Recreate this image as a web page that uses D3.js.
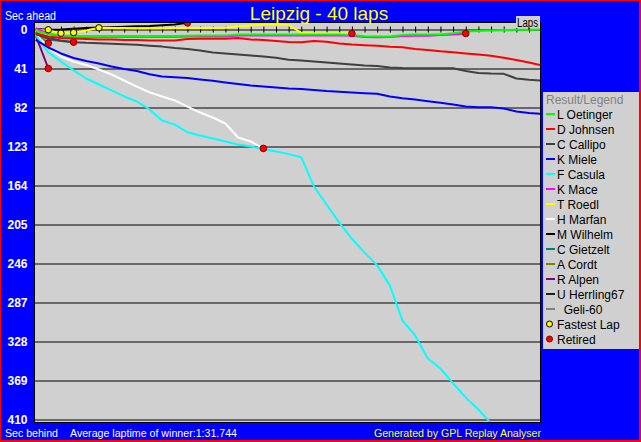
<!DOCTYPE html>
<html><head><meta charset="utf-8">
<script src="https://cdn.jsdelivr.net/npm/d3@7"></script>
<style>
body{margin:0;padding:0;background:#0000ff;overflow:hidden;}
svg{display:block;}
text{font-family:"Liberation Sans",Arial,sans-serif;}
</style></head><body>
<svg id="chart" width="641" height="442"></svg>
<script>
// ---------- data ----------
const chartTitle = "Leipzig - 40 laps";
const lapCount = 40;
const yTicks = [0, 41, 82, 123, 164, 205, 246, 287, 328, 369, 410];
const drivers = ["L Oetinger","D Johnsen","C Callipo","K Miele","F Casula","K Mace","T Roedl","H Marfan","M Wilhelm","C Gietzelt","A Cordt","R Alpen","U Herrling67","  Geli-60"];
const driverColors = ["#00ff00","#ff0000","#404040","#0000ff","#00ffff","#ff00ff","#ffff00","#ffffff","#000000","#008080","#808000","#800080","#202020","#808080"];
// seconds behind the winner's average pace, lap 0..n
const oetinger = [1.5,4.5,6.3,6.8,6.8,6.8,6.8,6.8,6.8,6.8,6.8,6.8,6.5,6.3,6.3,6.3,5.3,5.3,5.3,5.3,5.3,5.3,5.3,5.3,5.3,5.8,7,7.4,7.4,5.8,5.3,5.3,5.3,3.9,2.1,1.6,1,0.5,0.3,0.2,0];
const johnsen = [4,7.4,9,9.5,10,10.5,10.5,11,11,11.5,11.5,11.6,10,9.8,9.8,9.8,9,10.5,11,12,13.1,13.4,12,13,14.7,15.8,16.5,17,18.2,18.7,20.5,21.6,22.9,23.9,25.2,26.3,27.6,29.8,32,34.7,37.8];
const callipo = [5,9,11.5,13.3,14,14.4,15,15.5,16,17,18,19.5,20.5,22,24.2,25.2,26.3,27.3,28.4,29.8,31.9,32.6,33.6,34.7,35.7,36.8,37.8,38.4,40,40.5,40.7,40.7,40.7,40.7,43.6,45.7,46.3,46.6,51.5,52.9,53.6];
const miele = [11,18.9,25.2,30,33.1,35.7,38.9,41.5,43.6,47,49.4,50.1,51,52.6,54,55.7,57.3,58.9,60,61,62,62.5,63.6,64.7,65.5,66.2,67,67.6,70.4,72.2,73.6,75.4,77,78.8,81,81.7,81.7,83,86.2,87.8,88.6];
const casula = [6,24,33.6,43,51.5,57.8,64,70.4,75.7,84,95.7,100,108,111.4,114.6,117.7,121,123,125.6,128.3,131,134.3,165,184,203,220,234.5,248,269,306,321.7,345.9,356.4,372,387,399.5,414,430];
const mace = [-1.5,4.5,7,7.5,7.5,7.5,7.5,7.5,7.5,7.5,7.5,7.5,7.3,7.3,7.3,7.3,6.3,6.3,6.3,6.3,6.3,6.3,6.3,6.3,6.3,6.5,7.9,8.1,7.9,6.8,6.6,6.6,5.8,5.3,4.2];
const roedl = [0.5,1,3.9,3.2,1,-1.8,-1.6,-1.6,-1.4,-1.4,-1.4,-1.6,-1.6,-1.6,-1.6,-1.8,-3.2,-4.2,-5.3,-5.3,-5,3.7,4.2,4.2,4.2,4.2];
const marfan = [5,19,28.4,33.6,37.3,42,47.3,53.6,60,66,70.4,74.6,81,87.3,92.5,98.8,113.5,117.7,125];
const wilhelm = [-0.5,0.3,0,-0.8,-1.5,-2,-2.4,-2.8,-3.4,-3.6,-4.4,-5.3,-7];
const gietzelt = [3,10.5,12,13.3];
const cordt = [3,14.4];
const alpen = [6,41];
const herrling = [];
const geli = [];
const seriesValues = [oetinger,johnsen,callipo,miele,casula,mace,roedl,marfan,wilhelm,gietzelt,cordt,alpen,herrling,geli];
const retiredDrivers = ["K Mace","T Roedl","H Marfan","M Wilhelm","C Gietzelt","A Cordt","R Alpen"];
const fastestLapDrivers = ["M Wilhelm","T Roedl","T Roedl","T Roedl"];
const fastestLapLaps = [1,2,3,5];

// ---------- layout ----------
const W = 641, H = 442;
const svg = d3.select("#chart");
const plot = {x0:34, y0:22, x1:541, y1:423};

svg.append("rect").attr("x",0).attr("y",0).attr("width",W).attr("height",H).attr("fill","#ff0000");
svg.append("rect").attr("x",1).attr("y",1).attr("width",638).attr("height",439).attr("fill","#0000ff");

const x = d3.scaleLinear().domain([0, lapCount]).range([35.65, 541.65]);
const y = d3.scaleLinear().domain([0, 410]).range([29.5, 419.5]);

svg.append("rect").attr("x",plot.x0+0.5).attr("y",plot.y0+0.5)
  .attr("width",plot.x1-plot.x0-1).attr("height",plot.y1-plot.y0-1)
  .attr("fill","#d0d0d0").attr("stroke","#000").attr("stroke-width",1);

svg.append("defs").append("clipPath").attr("id","clip")
  .append("rect").attr("x",plot.x0+1).attr("y",plot.y0+1)
  .attr("width",plot.x1-plot.x0-2).attr("height",plot.y1-plot.y0-2);

// grid lines + y labels
const yAxis = d3.axisLeft(y).tickValues(yTicks).tickSize(-(plot.x1-plot.x0-1)).tickPadding(6);
const gy = svg.append("g").attr("transform",`translate(${plot.x0+0.5},0)`).call(yAxis);
gy.select(".domain").remove();
gy.selectAll(".tick line").attr("stroke","#000").attr("stroke-width",1);
gy.selectAll(".tick text").attr("fill","#fff").attr("font-size",12).attr("font-weight","bold")
  .attr("font-family",'"Liberation Sans",Arial,sans-serif').attr("x",-7);

// lap ticks on the zero line
const xAxis = d3.axisTop(x).tickValues(d3.range(1, lapCount)).tickSize(3).tickFormat("");
const gx = svg.append("g").attr("transform",`translate(0,${y(0)})`).call(xAxis);
gx.select(".domain").remove();
gx.selectAll(".tick line").attr("stroke","#000").attr("y2",-3).attr("y1",3);

// lines
const line = d3.line().x((d,i)=>x(i)).y(d=>y(d));
const gl = svg.append("g").attr("clip-path","url(#clip)");
for (let k = drivers.length-1; k >= 0; k--) {
  const v = seriesValues[k];
  if (v.length < 2) continue;
  gl.append("path").attr("d", line(v)).attr("fill","none")
    .attr("stroke", driverColors[k]).attr("stroke-width",2).attr("stroke-linejoin","round");
}
// fastest lap markers
fastestLapDrivers.forEach((dn,i)=>{
  const k = drivers.indexOf(dn);
  const lp = fastestLapLaps[i];
  gl.append("circle").attr("cx",x(lp)).attr("cy",y(seriesValues[k][lp])).attr("r",3.2)
    .attr("fill","#ffff00").attr("stroke","#000").attr("stroke-width",1);
});
// retired markers
retiredDrivers.forEach(dn=>{
  const k = drivers.indexOf(dn);
  const v = seriesValues[k];
  const lp = v.length-1;
  gl.append("circle").attr("cx",x(lp)).attr("cy",y(v[lp])).attr("r",3.3)
    .attr("fill","#ff0000").attr("stroke","#800000").attr("stroke-width",1);
});

// titles
svg.append("text").attr("x",319).attr("y",20).attr("text-anchor","middle")
  .attr("fill","#ffff00").attr("font-size",19).text(chartTitle);
svg.append("text").attr("x",5).attr("y",20).attr("fill","#fff").attr("font-size",12)
  .attr("textLength",51).attr("lengthAdjust","spacingAndGlyphs").text("Sec ahead");
svg.append("text").attr("x",5).attr("y",436.5).attr("fill","#fff").attr("font-size",11)
  .attr("textLength",53).attr("lengthAdjust","spacingAndGlyphs").text("Sec behind");
svg.append("text").attr("x",70).attr("y",436.5).attr("fill","#fff").attr("font-size",11)
  .attr("textLength",167).attr("lengthAdjust","spacingAndGlyphs").text("Average laptime of winner:1:31.744");
svg.append("text").attr("x",374).attr("y",436.5).attr("fill","#ffff00").attr("font-size",11)
  .attr("textLength",167).attr("lengthAdjust","spacingAndGlyphs").text("Generated by GPL Replay Analyser");
// laps label
svg.append("rect").attr("x",516).attr("y",16).attr("width",24).attr("height",12).attr("fill","#d0d0d0");
svg.append("text").attr("x",517).attr("y",26.5).attr("fill","#000").attr("font-size",12)
  .attr("textLength",21).attr("lengthAdjust","spacingAndGlyphs").text("Laps");

// legend
const lg = svg.append("g");
lg.append("rect").attr("x",543).attr("y",92).attr("width",96).attr("height",257).attr("fill","#d0d0d0");
lg.append("text").attr("x",546).attr("y",104).attr("fill","#808080").attr("font-size",12).text("Result/Legend");
drivers.forEach((dn,i)=>{
  const yy = 114 + i*15;
  lg.append("line").attr("x1",546).attr("x2",555).attr("y1",yy).attr("y2",yy)
    .attr("stroke",driverColors[i]).attr("stroke-width",2);
  lg.append("text").attr("x",557).attr("y",yy+4.5).attr("fill","#000").attr("font-size",12)
    .style("white-space","pre").text(dn);
});
const yF = 114 + drivers.length*15;
lg.append("circle").attr("cx",549.5).attr("cy",yF).attr("r",3).attr("fill","#ffff00").attr("stroke","#000");
lg.append("text").attr("x",557).attr("y",yF+4.5).attr("font-size",12).text("Fastest Lap");
lg.append("circle").attr("cx",549.5).attr("cy",yF+15).attr("r",3).attr("fill","#ff0000").attr("stroke","#800000");
lg.append("text").attr("x",557).attr("y",yF+19.5).attr("font-size",12).text("Retired");
</script>
</body></html>
